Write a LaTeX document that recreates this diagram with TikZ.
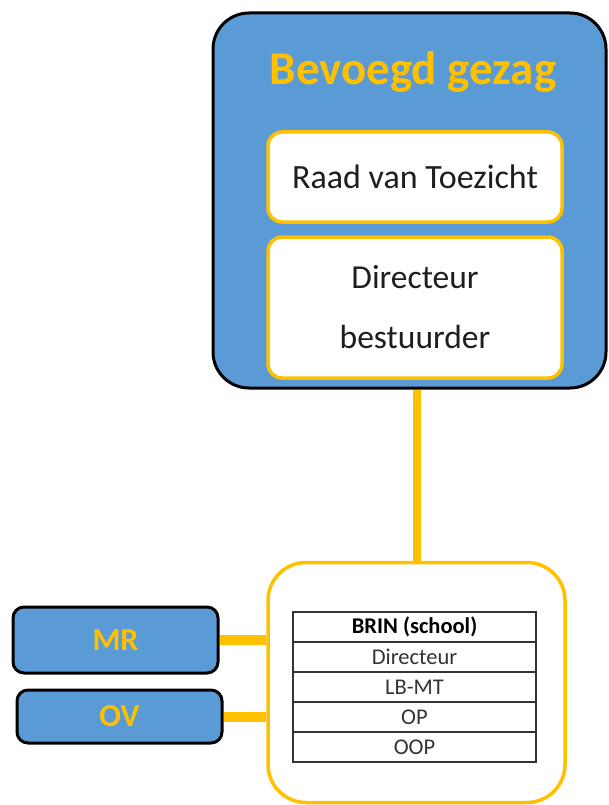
\documentclass[tikz,border=0pt]{standalone}
\usepackage{fontspec}
\setmainfont{Carlito}
\usetikzlibrary{backgrounds}
\definecolor{bgblue}{RGB}{91,155,213}
\definecolor{gold}{RGB}{255,192,0}
\definecolor{txt}{RGB}{30,30,30}
\tikzset{
  bluebox/.style={draw=black, fill=bgblue, line width=3pt, rounded corners=#1, inner sep=0pt},
  whitebox/.style={draw=gold, fill=white, line width=3.5pt, rounded corners=14pt, inner sep=0pt, text=txt},
  rowbox/.style={draw=black!80, line width=1.2pt, minimum width=243pt, minimum height=30pt, inner sep=0pt, text=black!80, font=\fontsize{22.5}{24}\selectfont},
  conn/.style={draw=gold, line width=#1},
  gold label/.style={text=gold, font=\bfseries\fontsize{#1}{#1}\selectfont}
}
\begin{document}
\begin{tikzpicture}[x=1pt,y=-1pt]
\useasboundingbox (0,0) rectangle (608,805);
% big box
\node[bluebox=36pt, minimum width=393pt, minimum height=375pt] (big) at (409.5,200.5) {};
\node[gold label=47] (title) at (413,72) {Bevoegd gezag};
\node[whitebox, minimum width=294pt, minimum height=90pt, font=\fontsize{34}{34}\selectfont] (rvt) at (415,177) {Raad van Toezicht};
\node[whitebox, minimum width=294pt, minimum height=141pt, font=\fontsize{33.5}{60}\selectfont, align=center] (dir) at (415,307.5) {Directeur\\bestuurder};
% school box
\node[draw=gold, fill=white, line width=3.5pt, rounded corners=38pt, minimum width=297pt, minimum height=240pt, inner sep=0pt] (school) at (416.5,682.5) {};
\node[rowbox, font=\bfseries\fontsize{22.5}{24}\selectfont, text=black] (r1) at (414.5,627) {BRIN (school)};
\node[rowbox] (r2) at (414.5,657) {Directeur};
\node[rowbox] (r3) at (414.5,687) {LB-MT};
\node[rowbox] (r4) at (414.5,717) {OP};
\node[rowbox] (r5) at (414.5,747) {OOP};
% side boxes
\node[bluebox=11pt, minimum width=205pt, minimum height=66pt, gold label=32] (mr) at (115.5,640) {MR};
\node[bluebox=11pt, minimum width=205pt, minimum height=53pt, gold label=32] (ov) at (119.5,716.5) {OV};
% connectors
\begin{scope}[on background layer]
\draw[conn=7pt] (rvt.south) -- (dir.north);
\draw[conn=8pt] (school.north |- big.south) -- (school.north);
\draw[conn=10pt] (mr.east) -- (mr.east -| school.west);
\draw[conn=10pt] (ov.east) -- (ov.east -| school.west);
\end{scope}
\end{tikzpicture}
\end{document}
